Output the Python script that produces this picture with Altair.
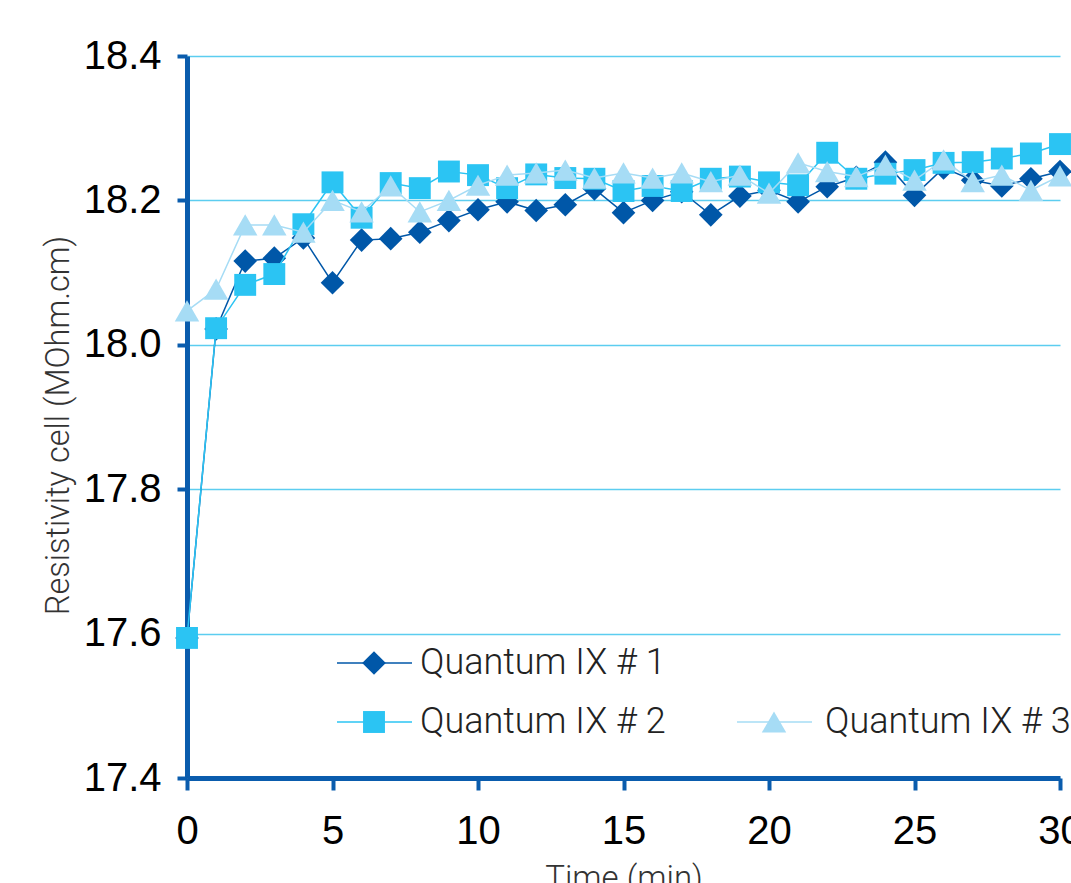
import altair as alt
import pandas as pd

# ---- data ----
time_min = list(range(31))
quantum_1 = [17.594, 18.022, 18.116, 18.120, 18.148, 18.086, 18.145, 18.147, 18.156, 18.172,
             18.187, 18.198, 18.186, 18.194, 18.216, 18.183, 18.200, 18.212, 18.180, 18.206,
             18.214, 18.198, 18.219, 18.232, 18.253, 18.207, 18.245, 18.228, 18.220, 18.230,
             18.240]
quantum_2 = [17.594, 18.023, 18.083, 18.098, 18.167, 18.225, 18.176, 18.224, 18.217, 18.240,
             18.235, 18.217, 18.236, 18.231, 18.230, 18.213, 18.220, 18.213, 18.230, 18.233,
             18.225, 18.221, 18.266, 18.230, 18.237, 18.242, 18.252, 18.253, 18.258, 18.265,
             18.278]
quantum_3 = [18.047, 18.077, 18.166, 18.166, 18.156, 18.200, 18.184, 18.220, 18.184, 18.200,
             18.221, 18.235, 18.238, 18.242, 18.231, 18.238, 18.231, 18.238, 18.226, 18.235,
             18.210, 18.252, 18.240, 18.233, 18.249, 18.228, 18.256, 18.226, 18.235, 18.214,
             18.234]
series_names = ["Quantum IX # 1", "Quantum IX # 2", "Quantum IX # 3"]
x_ticks = [0, 5, 10, 15, 20, 25, 30]
y_ticks = [17.4, 17.6, 17.8, 18.0, 18.2, 18.4]

# ---- styles ----
colors = ["#0057A8", "#2BC4F3", "#A6DCF5"]
shapes = ["diamond", "square", "triangle-up"]
sizes = [560, 480, 600]
AX = "#0A5CAD"
GRID = "#5CCDF0"
TICK_FONT = "Liberation Sans"
TEXT_FONT = "Roboto"
W, H = 873, 722

x_scale = alt.Scale(domain=[0, 30], nice=False, zero=False)
y_scale = alt.Scale(domain=[17.4, 18.4], nice=False, zero=False)

x_axis = alt.Axis(
    title="Time (min)", values=x_ticks, grid=False, format="d",
    domainColor=AX, domainWidth=5, tickColor=AX, tickWidth=4, tickSize=12,
    labelFont=TICK_FONT, labelFontSize=40, labelColor="#000000", labelPadding=21,
    labelFlush=False, labelOverlap=False,
    titleFont=TEXT_FONT, titleFontSize=33, titleFontWeight=300, titleColor="#333333",
    titleY=84, titleBaseline="top",
)
y_axis = alt.Axis(
    title="Resistivity cell (MOhm.cm)", values=y_ticks, format=".1f",
    grid=True, gridColor=GRID, gridWidth=1.5,
    domainColor=AX, domainWidth=5, tickColor=AX, tickWidth=4, tickSize=10,
    labelFont=TICK_FONT, labelFontSize=40, labelColor="#000000", labelPadding=16,
    labelFlush=False, labelOverlap=False,
    titleFont=TEXT_FONT, titleFontSize=32.5, titleFontWeight=300, titleColor="#333333",
    titleX=-129, titleY=369, titleBaseline="middle", titleAlign="center", titleAngle=-90,
)

layers = []
for name, vals, col, shp, sz in zip(series_names, [quantum_1, quantum_2, quantum_3],
                                    colors, shapes, sizes):
    df = pd.DataFrame({"t": time_min, "v": vals, "series": name})
    enc = dict(
        x=alt.X("t:Q", scale=x_scale, axis=x_axis),
        y=alt.Y("v:Q", scale=y_scale, axis=y_axis),
    )
    base = alt.Chart(df)
    layers.append(base.mark_line(color=col, strokeWidth=1.5).encode(**enc))
    layers.append(base.mark_point(shape=shp, filled=True, size=sz, color=col, opacity=1).encode(**enc))

# ---- manual legend (layout in pixels inside the plot area) ----
leg = pd.DataFrame({
    "label": series_names,
    "color": colors,
    "shape": shapes,
    "size": sizes,
    "sx": [187, 187, 587],
    "rx1": [150, 150, 550],
    "rx2": [225, 225, 625],
    "tx": [233, 233, 638],
    "py": [607, 666, 666],
})
lb = alt.Chart(leg)
leg_rule = lb.mark_rule(strokeWidth=1.5).encode(
    x=alt.X("rx1:Q", scale=None), x2="rx2:Q", y=alt.Y("py:Q", scale=None),
    color=alt.Color("color:N", scale=None),
)
leg_pt = lb.mark_point(filled=True, opacity=1).encode(
    x=alt.X("sx:Q", scale=None), y=alt.Y("py:Q", scale=None),
    color=alt.Color("color:N", scale=None), shape=alt.Shape("shape:N", scale=None),
    size=alt.Size("size:Q", scale=None),
)
leg_txt = lb.mark_text(align="left", baseline="middle", font=TEXT_FONT, fontSize=36,
                       fontWeight=300, color="#222222").encode(
    x=alt.X("tx:Q", scale=None), y=alt.Y("py:Q", scale=None), text="label:N",
)

chart = alt.layer(*layers, leg_rule, leg_pt, leg_txt).properties(
    width=W, height=H,
    autosize=alt.AutoSizeParams(type="none"),
    padding={"left": 187, "top": 56, "right": 11, "bottom": 105},
).configure_view(stroke=None)

chart.save("out.html", embed_options={"renderer": "svg", "actions": False})
